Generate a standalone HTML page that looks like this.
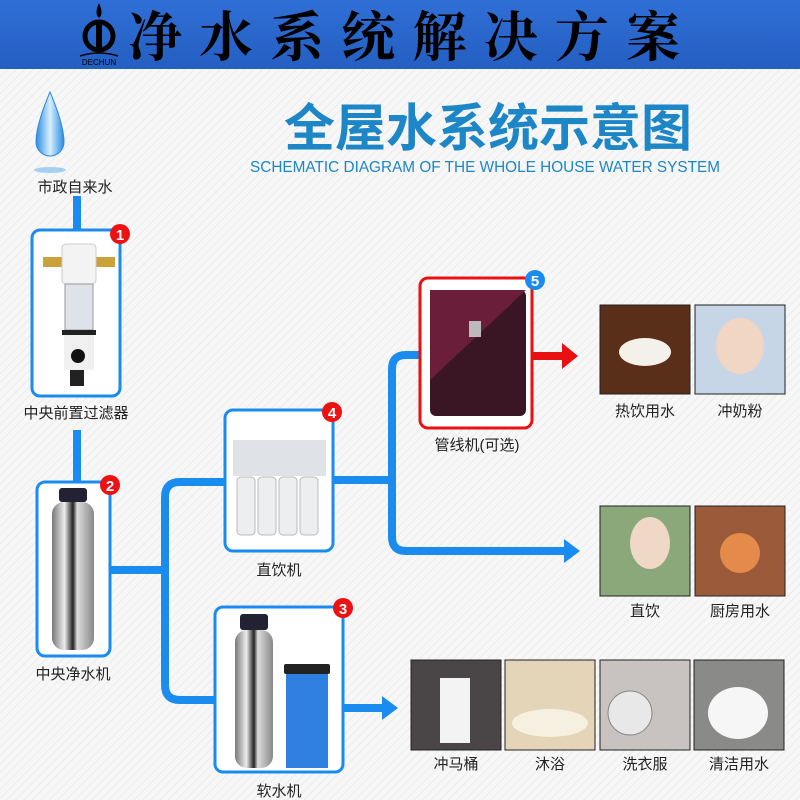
<!DOCTYPE html>
<html><head><meta charset="utf-8"><style>
body{margin:0;width:800px;height:800px;overflow:hidden;background:#f6f6f6;font-family:"Liberation Sans","Noto Sans CJK SC",sans-serif}
svg{position:absolute;left:0;top:0}
</style></head><body>
<svg width="800" height="800" viewBox="0 0 800 800">
<defs>
<pattern id="st" width="6" height="6" patternUnits="userSpaceOnUse" patternTransform="rotate(45)"><rect width="6" height="6" fill="#f7f7f7"/><rect width="1" height="6" fill="#ececec"/></pattern>
<linearGradient id="steel" x1="0" x2="1"><stop offset="0" stop-color="#777"/><stop offset=".3" stop-color="#eee"/><stop offset=".5" stop-color="#222"/><stop offset=".6" stop-color="#ddd"/><stop offset="1" stop-color="#888"/></linearGradient>
<linearGradient id="drop" x1="0" x2="1"><stop offset="0" stop-color="#2a8be0"/><stop offset=".5" stop-color="#d8efff"/><stop offset="1" stop-color="#2a8be0"/></linearGradient>
<linearGradient id="hdr" x1="0" y1="0" x2="0" y2="1"><stop offset="0" stop-color="#2f6fd6"/><stop offset="1" stop-color="#245fc2"/></linearGradient>
</defs>
<rect width="800" height="800" fill="url(#st)"/>
<rect width="800" height="69" fill="url(#hdr)"/>
<!-- logo -->
<circle cx="99" cy="36" r="14" fill="none" stroke="#000" stroke-width="5"/>
<rect x="96" y="20" width="6" height="28" fill="#000"/>
<path d="M99 3 Q94 14 99 18 Q104 14 99 3Z" fill="#000"/>
<path d="M80 56 Q99 50 118 56" stroke="#000" fill="none" stroke-width="1.5"/>
<text x="99" y="65" font-size="8" text-anchor="middle" fill="#000">DECHUN</text>
<text x="128" y="56" font-size="54" font-weight="bold" fill="#000" font-family="'Noto Serif CJK SC','Noto Sans CJK SC',serif" textLength="552" lengthAdjust="spacing">净水系统解决方案</text>
<text x="284" y="146" font-size="51" font-weight="bold" fill="#1d86c7" font-family="'Noto Sans CJK SC',sans-serif">全屋水系统示意图</text>
<text x="250" y="172" font-size="16" fill="#1d86c7" textLength="470" lengthAdjust="spacingAndGlyphs">SCHEMATIC DIAGRAM OF THE WHOLE HOUSE WATER SYSTEM</text>
<!-- drop -->
<ellipse cx="50" cy="170" rx="16" ry="3" fill="#6fb8f0" opacity=".6"/>
<path d="M50 92 Q36 125 36 142 A14 14 0 0 0 64 142 Q64 125 50 92Z" fill="url(#drop)" stroke="#2a8be0" stroke-width="1"/>
<text x="75" y="192" font-size="15" text-anchor="middle" fill="#222">市政自来水</text>
<!-- pipes -->
<g stroke="#1a8cf0" stroke-width="8" fill="none">
<line x1="77" y1="196" x2="77" y2="232"/>
<line x1="77" y1="430" x2="77" y2="482"/>
<line x1="110" y1="570" x2="165" y2="570"/>
<path d="M225 482 H180 Q165 482 165 497 V685 Q165 700 180 700 H216"/>
<line x1="333" y1="480" x2="392" y2="480"/>
<path d="M421 355 H406 Q392 355 392 369 V537 Q392 551 406 551 H566"/>
<line x1="343" y1="708" x2="384" y2="708"/>
</g>
<polygon points="564,539 580,551 564,563" fill="#1a8cf0"/>
<polygon points="382,696 398,708 382,720" fill="#1a8cf0"/>
<line x1="532" y1="356" x2="565" y2="356" stroke="#e81010" stroke-width="8"/>
<polygon points="562,343 578,356 562,369" fill="#e81010"/>
<!-- box1 -->
<rect x="32" y="230" width="88" height="166" rx="8" fill="#fff" stroke="#1a8cf0" stroke-width="3"/>
<rect x="43" y="257" width="20" height="10" fill="#c9a23a"/><rect x="95" y="257" width="20" height="10" fill="#c9a23a"/>
<rect x="62" y="244" width="34" height="40" rx="4" fill="#f3f3f3" stroke="#ccc"/>
<rect x="65" y="284" width="28" height="46" fill="#dde3e8" stroke="#999"/>
<rect x="62" y="330" width="34" height="5" fill="#222"/>
<rect x="64" y="335" width="30" height="35" fill="#f0f0f0"/>
<circle cx="78" cy="356" r="7" fill="#111"/>
<rect x="70" y="370" width="14" height="16" fill="#222"/>
<circle cx="120" cy="234" r="10" fill="#e11"/><text x="120" y="240" font-size="15" font-weight="bold" fill="#fff" text-anchor="middle">1</text>
<text x="76" y="418" font-size="15" text-anchor="middle" fill="#222">中央前置过滤器</text>
<!-- box2 -->
<rect x="37" y="482" width="73" height="174" rx="8" fill="#fff" stroke="#1a8cf0" stroke-width="3"/>
<rect x="59" y="488" width="28" height="14" rx="3" fill="#223"/>
<rect x="52" y="502" width="42" height="148" rx="12" fill="url(#steel)"/>
<circle cx="110" cy="485" r="10" fill="#e11"/><text x="110" y="491" font-size="15" font-weight="bold" fill="#fff" text-anchor="middle">2</text>
<text x="73" y="679" font-size="15" text-anchor="middle" fill="#222">中央净水机</text>
<!-- box4 -->
<rect x="225" y="410" width="108" height="141" rx="8" fill="#fff" stroke="#1a8cf0" stroke-width="3"/>
<rect x="233" y="440" width="93" height="36" fill="#dfe2e6"/>
<g fill="#eceeef" stroke="#bbb"><rect x="237" y="477" width="18" height="58" rx="4"/><rect x="258" y="477" width="18" height="58" rx="4"/><rect x="279" y="477" width="18" height="58" rx="4"/><rect x="300" y="477" width="18" height="58" rx="4"/></g>
<circle cx="332" cy="412" r="10" fill="#e11"/><text x="332" y="418" font-size="15" font-weight="bold" fill="#fff" text-anchor="middle">4</text>
<text x="279" y="575" font-size="15" text-anchor="middle" fill="#222">直饮机</text>
<!-- box3 -->
<rect x="215" y="607" width="128" height="165" rx="8" fill="#fff" stroke="#1a8cf0" stroke-width="3"/>
<rect x="240" y="614" width="28" height="16" rx="3" fill="#223"/>
<rect x="235" y="630" width="38" height="138" rx="12" fill="url(#steel)"/>
<rect x="284" y="664" width="46" height="10" rx="2" fill="#222"/>
<rect x="286" y="674" width="42" height="94" fill="#2f7fe0"/>
<circle cx="343" cy="608" r="10" fill="#e11"/><text x="343" y="614" font-size="15" font-weight="bold" fill="#fff" text-anchor="middle">3</text>
<text x="279" y="796" font-size="15" text-anchor="middle" fill="#222">软水机</text>
<!-- box5 -->
<rect x="420" y="278" width="112" height="150" rx="8" fill="#fff" stroke="#e81010" stroke-width="3"/>
<rect x="430" y="290" width="96" height="126" rx="6" fill="#3a1624"/>
<polygon points="430,290 526,290 430,380" fill="#6a1e3a"/>
<rect x="469" y="321" width="12" height="16" fill="#bbb"/>
<circle cx="535" cy="280" r="10" fill="#1a8cf0"/><text x="535" y="286" font-size="15" font-weight="bold" fill="#fff" text-anchor="middle">5</text>
<text x="477" y="450" font-size="15" text-anchor="middle" fill="#222">管线机(可选)</text>
<!-- photos -->
<g stroke="#222" stroke-width="1">
<rect x="600" y="305" width="90" height="89" fill="#5a2f1a"/>
<rect x="695" y="305" width="90" height="89" fill="#c7d6e6"/>
<rect x="600" y="506" width="90" height="90" fill="#8aa87a"/>
<rect x="695" y="506" width="90" height="90" fill="#9a5a3a"/>
<rect x="411" y="660" width="90" height="90" fill="#4a4648"/>
<rect x="505" y="660" width="90" height="90" fill="#e4d4b8"/>
<rect x="600" y="660" width="90" height="90" fill="#c8c2c0"/>
<rect x="694" y="660" width="90" height="90" fill="#8a8a88"/>
</g>
<ellipse cx="645" cy="352" rx="26" ry="14" fill="#f4f0ea"/>
<ellipse cx="740" cy="346" rx="24" ry="28" fill="#f1d6c4"/>
<ellipse cx="650" cy="543" rx="20" ry="26" fill="#f0d8c6"/>
<circle cx="740" cy="553" r="20" fill="#e48a4a"/>
<rect x="440" y="678" width="30" height="65" fill="#f3f3f3"/>
<ellipse cx="550" cy="723" rx="38" ry="14" fill="#f6f0e0"/>
<circle cx="630" cy="713" r="22" fill="#e8e8e8" stroke="#888"/>
<ellipse cx="738" cy="713" rx="30" ry="26" fill="#f6f6f6"/>
<g font-size="15" fill="#222" text-anchor="middle">
<text x="645" y="416">热饮用水</text><text x="740" y="416">冲奶粉</text>
<text x="645" y="616">直饮</text><text x="740" y="616">厨房用水</text>
<text x="456" y="769">冲马桶</text><text x="550" y="769">沐浴</text><text x="645" y="769">洗衣服</text><text x="739" y="769">清洁用水</text>
</g>
</svg>
</body></html>
